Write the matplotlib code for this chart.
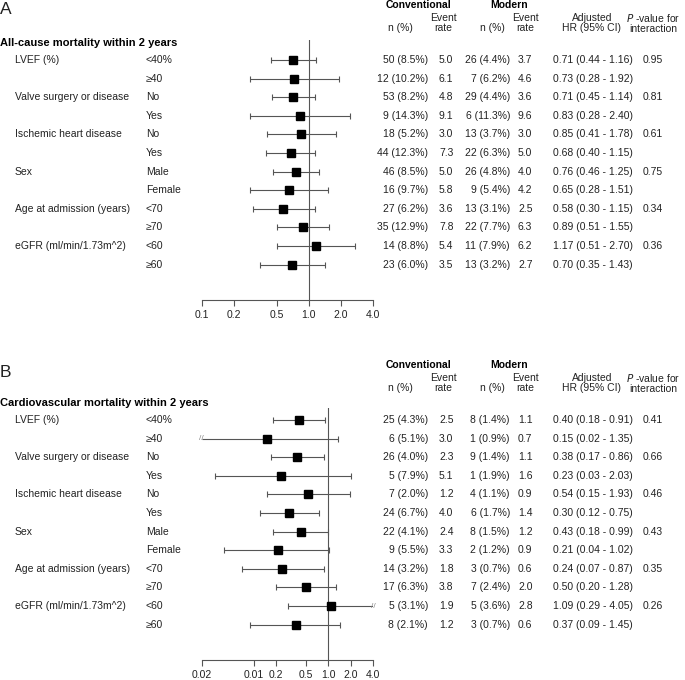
import matplotlib
matplotlib.use("Agg")
from matplotlib import pyplot as plt
from matplotlib.transforms import blended_transform_factory
import numpy as np

plt.rcParams['font.family'] = ['Liberation Sans', 'DejaVu Sans']

groups = ["LVEF (%)", "", "Valve surgery or disease", "", "Ischemic heart disease", "",
          "Sex", "", "Age at admission (years)", "", "eGFR (ml/min/1.73m^2)", ""]
subgroups = ["<40%", "≥40", "No", "Yes", "No", "Yes", "Male", "Female", "<70", "≥70", "<60", "≥60"]

# panel A: all-cause mortality
a_conv_n = ["50 (8.5%)", "12 (10.2%)", "53 (8.2%)", "9 (14.3%)", "18 (5.2%)", "44 (12.3%)",
            "46 (8.5%)", "16 (9.7%)", "27 (6.2%)", "35 (12.9%)", "14 (8.8%)", "23 (6.0%)"]
a_conv_rate = [5.0, 6.1, 4.8, 9.1, 3.0, 7.3, 5.0, 5.8, 3.6, 7.8, 5.4, 3.5]
a_mod_n = ["26 (4.4%)", "7 (6.2%)", "29 (4.4%)", "6 (11.3%)", "13 (3.7%)", "22 (6.3%)",
           "26 (4.8%)", "9 (5.4%)", "13 (3.1%)", "22 (7.7%)", "11 (7.9%)", "13 (3.2%)"]
a_mod_rate = [3.7, 4.6, 3.6, 9.6, 3.0, 5.0, 4.0, 4.2, 2.5, 6.3, 6.2, 2.7]
a_hr = [0.71, 0.73, 0.71, 0.83, 0.85, 0.68, 0.76, 0.65, 0.58, 0.89, 1.17, 0.70]
a_lo = [0.44, 0.28, 0.45, 0.28, 0.41, 0.40, 0.46, 0.28, 0.30, 0.51, 0.51, 0.35]
a_hi = [1.16, 1.92, 1.14, 2.40, 1.78, 1.15, 1.25, 1.51, 1.15, 1.55, 2.70, 1.43]
a_p = ["0.95", "", "0.81", "", "0.61", "", "0.75", "", "0.34", "", "0.36", ""]
a_ticks = [0.1, 0.2, 0.5, 1.0, 2.0, 4.0]
a_ticklabels = ["0.1", "0.2", "0.5", "1.0", "2.0", "4.0"]

# panel B: cardiovascular mortality
b_conv_n = ["25 (4.3%)", "6 (5.1%)", "26 (4.0%)", "5 (7.9%)", "7 (2.0%)", "24 (6.7%)",
            "22 (4.1%)", "9 (5.5%)", "14 (3.2%)", "17 (6.3%)", "5 (3.1%)", "8 (2.1%)"]
b_conv_rate = [2.5, 3.0, 2.3, 5.1, 1.2, 4.0, 2.4, 3.3, 1.8, 3.8, 1.9, 1.2]
b_mod_n = ["8 (1.4%)", "1 (0.9%)", "9 (1.4%)", "1 (1.9%)", "4 (1.1%)", "6 (1.7%)",
           "8 (1.5%)", "2 (1.2%)", "3 (0.7%)", "7 (2.4%)", "5 (3.6%)", "3 (0.7%)"]
b_mod_rate = [1.1, 0.7, 1.1, 1.6, 0.9, 1.4, 1.2, 0.9, 0.6, 2.0, 2.8, 0.6]
b_hr = [0.40, 0.15, 0.38, 0.23, 0.54, 0.30, 0.43, 0.21, 0.24, 0.50, 1.09, 0.37]
b_lo = [0.18, 0.02, 0.17, 0.03, 0.15, 0.12, 0.18, 0.04, 0.07, 0.20, 0.29, 0.09]
b_hi = [0.91, 1.35, 0.86, 2.03, 1.93, 0.75, 0.99, 1.02, 0.87, 1.28, 4.05, 1.45]
b_p = ["0.41", "", "0.66", "", "0.46", "", "0.43", "", "0.35", "", "0.26", ""]
b_ticks = [0.02, 0.1, 0.2, 0.5, 1.0, 2.0, 4.0]
b_ticklabels = ["0.02", "0.01", "0.2", "0.5", "1.0", "2.0", "4.0"]

W, H = 685, 680
TXT = '#222222'
GRAY = '#555555'
FS = 7.5

fig = plt.figure(figsize=(W / 100, H / 100), dpi=100)


def fx(px):
    return px / W


def fy(py):
    return 1 - py / H


def panel(off, letter, title, conv_n, conv_rate, mod_n, mod_rate, hr, lo, hi, p, ticks, ticklabels):
    row0 = 60 + off
    step = 18.6
    top = 40 + off if off == 0 else 48 + off
    bottom = 300 + off
    ax = fig.add_axes([fx(201.7), fy(bottom), fx(373.3 - 201.7), (bottom - top) / H])
    ax.set_xscale('log')
    xmin, xmax = ticks[0], ticks[-1]
    ax.set_xlim(xmin, xmax)
    ax.set_ylim((bottom - row0) / step, (top - row0) / step)
    for s in ['top', 'right', 'left']:
        ax.spines[s].set_visible(False)
    ax.spines['bottom'].set_color(GRAY)
    ax.spines['bottom'].set_linewidth(0.8)
    ax.set_yticks([])
    ax.set_xticks(ticks)
    ax.set_xticklabels(ticklabels)
    ax.xaxis.set_minor_locator(matplotlib.ticker.NullLocator())
    ax.tick_params(axis='x', direction='out', length=4, width=0.8, color=GRAY,
                   labelsize=FS, labelcolor=TXT, pad=3)
    ax.axvline(1.0, color=GRAY, lw=0.8)
    ax.patch.set_alpha(0)

    for i in range(len(hr)):
        l = max(lo[i], xmin)
        h = min(hi[i], xmax)
        ax.plot([l, h], [i, i], color=GRAY, lw=0.8, solid_capstyle='butt')
        if lo[i] > xmin:
            ax.plot([l], [i], marker='|', ms=4, mew=0.8, color=GRAY)
        else:
            ax.text(l, i, '//', ha='center', va='center', fontsize=6, color='#888888', clip_on=False)
        if hi[i] < xmax:
            ax.plot([h], [i], marker='|', ms=4, mew=0.8, color=GRAY)
        else:
            ax.text(h, i, '//', ha='center', va='center', fontsize=6, color='#888888', clip_on=False)
        ax.plot([hr[i]], [i], marker='s', ms=5.5, color='black', zorder=5)

    tr = blended_transform_factory(fig.transFigure, ax.transData)
    for i in range(len(hr)):
        kw = dict(transform=tr, va='center', fontsize=FS, color=TXT)
        ax.text(fx(15), i, groups[i], ha='left', **kw)
        ax.text(fx(146), i, subgroups[i], ha='left', **kw)
        ax.text(fx(428), i, conv_n[i], ha='right', **kw)
        ax.text(fx(439), i, f"{conv_rate[i]:.1f}", ha='left', **kw)
        ax.text(fx(510), i, mod_n[i], ha='right', **kw)
        ax.text(fx(518), i, f"{mod_rate[i]:.1f}", ha='left', **kw)
        ax.text(fx(553), i, f"{hr[i]:.2f} ({lo[i]:.2f} - {hi[i]:.2f})", ha='left', **kw)
        ax.text(fx(643), i, p[i], ha='left', **kw)

    # headers
    fig.text(fx(0), fy(9 + off * 1.01), letter, fontsize=12.5, color=TXT, va='center', ha='left')
    fig.text(fx(0), fy(43 + off), title, fontsize=8.0, fontweight='bold', color='black',
             va='center', ha='left')
    fig.text(fx(419), fy(5 + off), "Conventional", fontsize=FS, fontweight='bold',
             color='black', ha='center', va='center')
    fig.text(fx(509), fy(5 + off), "Modern", fontsize=FS, fontweight='bold',
             color='black', ha='center', va='center')
    hk = dict(fontsize=FS, color=TXT, ha='center', va='center', linespacing=1.1)
    fig.text(fx(400), fy(28 + off), "n (%)", **hk)
    fig.text(fx(443), fy(23 + off), "Event\nrate", **hk)
    fig.text(fx(492), fy(28 + off), "n (%)", **hk)
    fig.text(fx(525), fy(23 + off), "Event\nrate", **hk)
    fig.text(fx(592), fy(23 + off), "Adjusted\nHR (95% CI)", **hk)
    fig.text(fx(653), fy(23 + off), "$\\mathit{P}$ -value for\ninteraction", **hk)


panel(0, "A", "All-cause mortality within 2 years", a_conv_n, a_conv_rate, a_mod_n, a_mod_rate,
      a_hr, a_lo, a_hi, a_p, a_ticks, a_ticklabels)
panel(360, "B", "Cardiovascular mortality within 2 years", b_conv_n, b_conv_rate, b_mod_n, b_mod_rate,
      b_hr, b_lo, b_hi, b_p, b_ticks, b_ticklabels)

fig.savefig("out.png", dpi=100, facecolor='white')
